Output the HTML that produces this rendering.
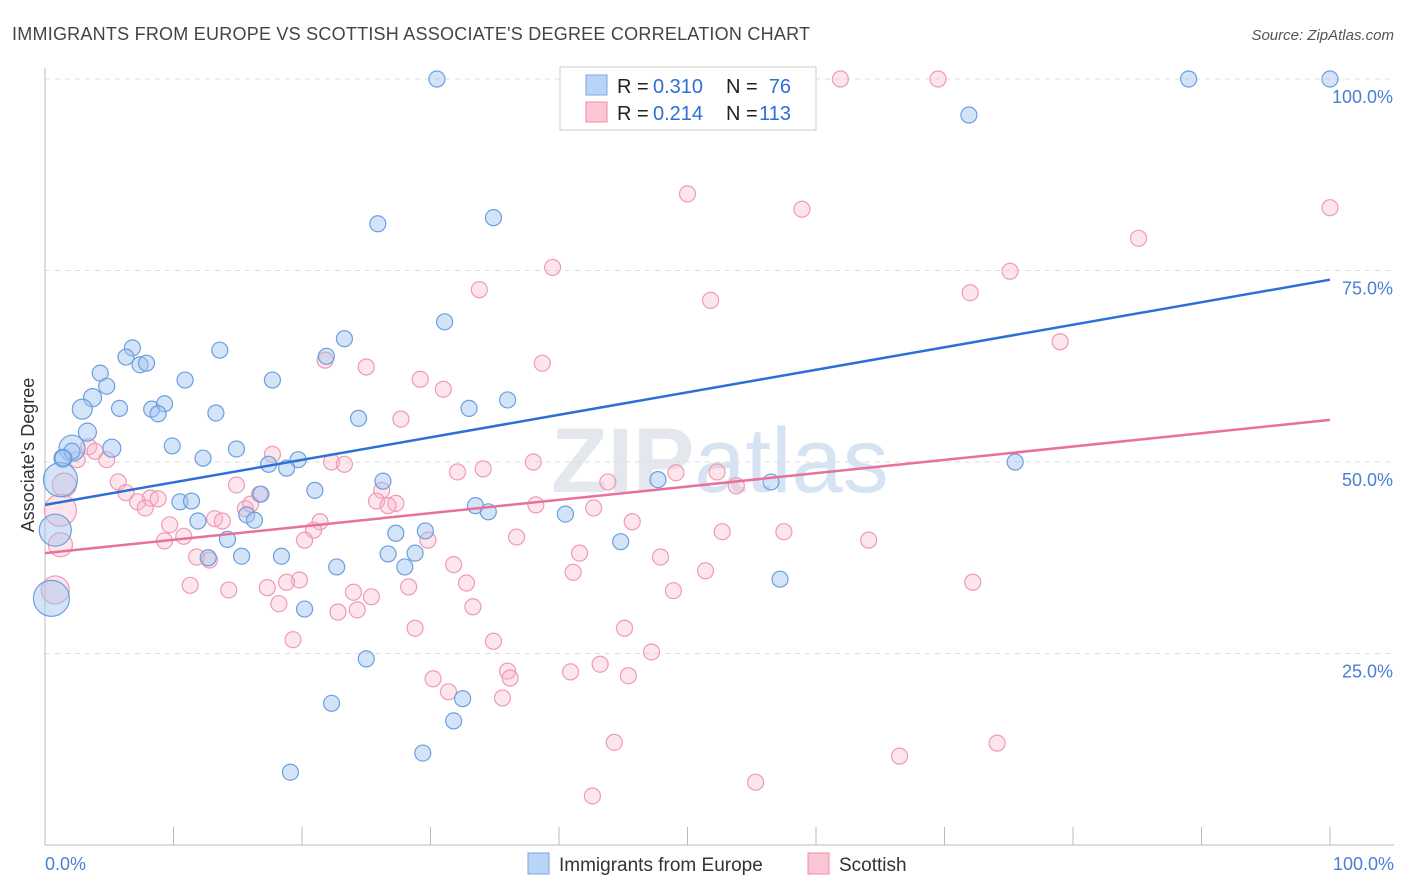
<!DOCTYPE html>
<html><head><meta charset="utf-8"><style>
body{margin:0;background:#fff;font-family:"Liberation Sans",sans-serif}
svg{display:block}
</style></head><body>
<svg id="chart" width="1406" height="892" xmlns="http://www.w3.org/2000/svg" font-family="Liberation Sans, sans-serif">
<text x="12" y="40" font-size="18" fill="#444" textLength="798">IMMIGRANTS FROM EUROPE VS SCOTTISH ASSOCIATE'S DEGREE CORRELATION CHART</text>
<text x="1394" y="40" font-size="15" fill="#555" text-anchor="end" font-style="italic">Source: ZipAtlas.com</text>
<text x="720" y="492" font-size="92" fill="#e4e8ee" text-anchor="middle" font-weight="bold">ZIP<tspan fill="#d6e3f2" font-weight="normal">atlas</tspan></text>
<g id="grid"></g>
<g id="axes"></g>
<g id="pts"></g>
<g id="lines"></g>
<text transform="translate(34,455) rotate(-90)" font-size="18" fill="#333" text-anchor="middle">Associate's Degree</text>
<g>
<rect x="560" y="67" width="256" height="63" fill="#fff" stroke="#ccc"/>
<rect x="586" y="75" width="21" height="20" fill="#b8d4f6" stroke="#7aa7e0"/>
<rect x="586" y="102" width="21" height="20" fill="#fac6d4" stroke="#f08aaa"/>
<text x="617" y="93" font-size="20" fill="#222">R =</text>
<text x="653" y="93" font-size="20" fill="#2d6fd6">0.310</text>
<text x="726" y="93" font-size="20" fill="#222">N =</text>
<text x="791" y="93" font-size="20" fill="#2d6fd6" text-anchor="end">76</text>
<text x="617" y="120" font-size="20" fill="#222">R =</text>
<text x="653" y="120" font-size="20" fill="#2d6fd6">0.214</text>
<text x="726" y="120" font-size="20" fill="#222">N =</text>
<text x="791" y="120" font-size="20" fill="#2d6fd6" text-anchor="end">113</text>
</g>
<g>
<rect x="528" y="853" width="21" height="21" fill="#b8d4f6" stroke="#7aa7e0"/>
<text x="559" y="871" font-size="19" fill="#333">Immigrants from Europe</text>
<rect x="808" y="853" width="21" height="21" fill="#fac6d4" stroke="#f08aaa"/>
<text x="839" y="871" font-size="19" fill="#333">Scottish</text>
</g>
</svg>
<script>
const yTicks=[100,75,50,25];
const yTickLabels=["100.0%","75.0%","50.0%","25.0%"];
const xEndLabels=["0.0%","100.0%"];
const blueX=[30.5,89.0,100,71.9,25.9,34.9,31.1,23.3,21.9,13.6,6.8,6.3,7.4,7.9,4.3,10.9,17.7,4.8,3.7,2.9,5.8,8.3,9.3,8.8,13.3,24.4,33.0,36.0,3.3,2.1,5.2,9.9,14.9,1.4,12.3,19.7,17.4,18.8,75.5,1.2,26.3,21.0,16.8,10.5,11.4,33.5,34.5,40.5,47.7,56.5,15.7,16.3,11.9,14.2,27.3,29.6,44.8,0.8,12.7,15.3,26.7,28.8,18.4,28.0,22.7,0.5,57.2,20.2,25.0,32.5,22.3,31.8,29.4,19.1,2.1,1.4];
const blueY=[100,100,100,95.3,81.1,81.9,68.3,66.1,63.8,64.6,64.9,63.7,62.7,62.9,61.6,60.7,60.7,59.9,58.4,56.9,57.0,56.9,57.6,56.3,56.4,55.7,57.0,58.1,53.9,51.8,51.8,52.1,51.7,50.5,50.5,50.3,49.7,49.2,50.0,47.7,47.5,46.3,45.8,44.8,44.9,44.3,43.5,43.2,47.7,47.4,43.1,42.4,42.3,39.9,40.7,41.0,39.6,41.1,37.5,37.7,38.0,38.1,37.7,36.3,36.3,32.2,34.7,30.8,24.3,19.1,18.5,16.2,12.0,9.5,51.4,50.5];
const blueR=[8,8,8,8,8,8,8,8,8,8,8,8,8,8,8,8,8,8,9,10,8,8,8,8,8,8,8,8,9,13,9,8,8,9,8,8,8,8,8,17,8,8,8,8,8,8,8,8,8,8,8,8,8,8,8,8,8,16,8,8,8,8,8,8,8,18,8,8,8,8,8,8,8,8,8,8];
const pinkX=[61.9,69.5,50.0,58.9,100,85.1,39.5,75.1,33.8,72.0,51.8,79.0,21.8,38.7,25.0,29.2,31.0,27.7,3.4,3.9,2.5,4.8,17.7,22.3,23.3,38.0,34.1,32.1,49.1,52.3,43.8,53.8,5.7,14.9,16.7,6.3,8.2,8.8,7.2,7.8,26.2,25.8,27.3,26.7,38.2,42.7,15.6,16.0,13.2,13.8,9.7,45.7,21.4,20.9,10.8,9.3,20.2,29.8,36.7,52.7,57.5,64.1,11.8,12.8,41.6,47.9,31.8,41.1,51.4,11.3,14.3,17.3,19.8,18.8,32.8,48.9,24.0,25.4,28.3,72.2,18.2,24.3,22.8,33.3,45.1,28.8,19.3,34.9,47.2,43.2,40.9,45.4,36.0,36.2,30.2,31.4,35.6,44.3,66.5,74.1,55.3,42.6,0.8,1.2,1.5,1.2];
const pinkY=[100,100,85.0,83.0,83.2,79.2,75.4,74.9,72.5,72.1,71.1,65.7,63.3,62.9,62.4,60.8,59.5,55.6,52.0,51.4,50.3,50.3,51.0,50.0,49.7,50.0,49.1,48.7,48.6,48.7,47.4,46.9,47.4,47.0,45.8,46.0,45.3,45.2,44.8,44.0,46.3,44.9,44.6,44.3,44.4,44.0,43.9,44.5,42.6,42.3,41.8,42.2,42.2,41.1,40.3,39.7,39.8,39.8,40.2,40.9,40.9,39.8,37.6,37.2,38.1,37.6,36.6,35.6,35.8,33.9,33.3,33.6,34.6,34.3,34.2,33.2,33.0,32.4,33.7,34.3,31.5,30.7,30.4,31.1,28.3,28.3,26.8,26.6,25.2,23.6,22.6,22.1,22.7,21.8,21.7,20.0,19.2,13.4,11.6,13.3,8.2,6.4,33.3,43.7,47.0,39.2];
const pinkR=pinkX.map((v,i)=>i>=102?(i===102?14:(i===103?16:12)):8);
const blueTrend=[44.4,73.8];
const pinkTrend=[38.1,55.5];
const X0=45,X1=1330,Y0=845,Y100=79;
const sx=v=>X0+(X1-X0)*v/100;
const sy=v=>Y0-(Y0-Y100)*v/100;
const NS="http://www.w3.org/2000/svg";
function mk(tag,attrs,parent){const e=document.createElementNS(NS,tag);for(const k in attrs)e.setAttribute(k,attrs[k]);document.getElementById(parent).appendChild(e);return e;}
yTicks.forEach((t,i)=>{
 const l=mk('line',{x1:X0,x2:1394,y1:sy(t),y2:sy(t),stroke:'#ddd','stroke-dasharray':'5,5'},'grid');
 
 
 const tx=mk('text',{x:1393,y:sy(t)+24,'font-size':18,fill:'#4a7fd4','text-anchor':'end'},'grid');
 tx.textContent=yTickLabels[i];
 
 
});
const ax=mk('line',{x1:X0,x2:1394,y1:Y0,y2:Y0,stroke:'#bbb'},'axes');


const ay=mk('line',{x1:X0,x2:X0,y1:68,y2:Y0,stroke:'#bbb'},'axes');


for(let i=0;i<=10;i++){
 const t=mk('line',{x1:sx(i*10),x2:sx(i*10),y1:Y0,y2:Y0-18,stroke:'#bbb'},'axes');
 
 
}
[[0,'start',45],[100,'end',1394]].forEach((d,i)=>{
 const t=mk('text',{x:d[2],y:870,'font-size':18,fill:'#4a7fd4','text-anchor':d[1]},'axes');
 t.textContent=xEndLabels[i];
 
 
});
pinkX.forEach((v,i)=>{
 const c=mk('circle',{cx:sx(v),cy:sy(pinkY[i]),r:pinkR[i],fill:'rgba(248,180,200,0.35)',stroke:'#f09ab4','stroke-width':1.2},'pts');
 
 
});
blueX.forEach((v,i)=>{
 const c=mk('circle',{cx:sx(v),cy:sy(blueY[i]),r:blueR[i]||8,fill:'rgba(160,196,240,0.45)',stroke:'#6a9fe0','stroke-width':1.2},'pts');
 
 
});
const bl=mk('line',{x1:sx(0),y1:sy(blueTrend[0]),x2:sx(100),y2:sy(blueTrend[1]),stroke:'#2d6fd6','stroke-width':2.5},'lines');


const pl=mk('line',{x1:sx(0),y1:sy(pinkTrend[0]),x2:sx(100),y2:sy(pinkTrend[1]),stroke:'#e8709a','stroke-width':2.5},'lines');


</script>
</body></html>
